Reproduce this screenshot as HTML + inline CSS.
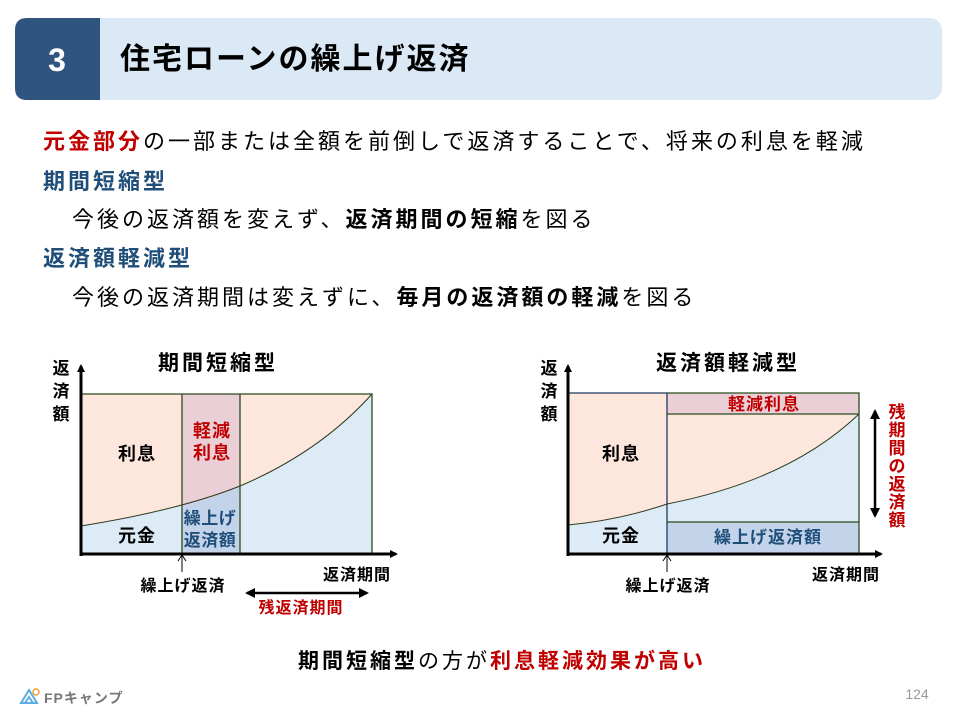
<!DOCTYPE html>
<html><head><meta charset="utf-8"><style>
body{margin:0;width:960px;height:720px;background:#fff;overflow:hidden;font-family:"Liberation Sans","Noto Sans CJK JP",sans-serif;}
svg{letter-spacing:3px;}
svg text{font-family:"Liberation Sans","Noto Sans CJK JP",sans-serif;}
</style></head><body>
<svg width="960" height="720" viewBox="0 0 960 720" xmlns="http://www.w3.org/2000/svg">
<defs>
<marker id="ah" markerWidth="8" markerHeight="8" refX="6" refY="4" orient="auto" markerUnits="userSpaceOnUse"><path d="M0,0 L8,4 L0,8 Z" fill="#000"/></marker>
<marker id="ah2" markerWidth="10" markerHeight="10" refX="8" refY="5" orient="auto-start-reverse" markerUnits="userSpaceOnUse"><path d="M0,0 L10,5 L0,10 Z" fill="#000"/></marker>
</defs>
<!-- header -->
<rect x="15" y="18" width="927" height="82" rx="12" fill="#dbe9f7"/>
<path d="M27,18 H100 V100 H27 Q15,100 15,88 V30 Q15,18 27,18 Z" fill="#2f5480"/>
<text x="57" y="71" font-size="32" font-weight="bold" fill="#fff" text-anchor="middle" style="letter-spacing:0">3</text>
<text x="120" y="69" font-size="30" font-weight="bold" fill="#000" style="letter-spacing:2px">住宅ローンの繰上げ返済</text>
<!-- body text -->
<g style="letter-spacing:3px">
<text x="43" y="149" font-size="22" fill="#000"><tspan fill="#c00000" font-weight="bold">元金部分</tspan>の一部または全額を前倒しで返済することで、将来の利息を軽減</text>
<text x="43" y="189" font-size="22" font-weight="bold" fill="#1f4e79">期間短縮型</text>
<text x="72" y="227" font-size="22" fill="#000">今後の返済額を変えず、<tspan font-weight="bold">返済期間の短縮</tspan>を図る</text>
<text x="43" y="266" font-size="22" font-weight="bold" fill="#1f4e79">返済額軽減型</text>
<text x="72" y="305" font-size="22" fill="#000">今後の返済期間は変えずに、<tspan font-weight="bold">毎月の返済額の軽減</tspan>を図る</text>
</g>

<!-- Left chart -->
<text x="218" y="370" font-size="21" font-weight="bold" text-anchor="middle" style="letter-spacing:3px">期間短縮型</text>
<g font-size="17" font-weight="bold" text-anchor="middle" style="letter-spacing:0"><text x="61" y="374">返</text><text x="61" y="397">済</text><text x="61" y="420">額</text></g>
<rect x="81" y="394" width="291" height="160" fill="#fde6dc"/>
<path d="M81,526 Q180,510 240,486 Q320,452 372,394 L372,554 L81,554 Z" fill="#ddebf7"/>
<rect x="182" y="394" width="58" height="112" fill="#ebcfd6"/>
<path d="M182,506 Q215,498 240,486 L240,554 L182,554 Z" fill="#c3d3ea"/>
<path d="M81,526 Q180,510 240,486 Q320,452 372,394" fill="none" stroke="#2b3a1e" stroke-width="1"/>
<path d="M81,394 H372 V554 M182,394 V554 M240,394 V554" fill="none" stroke="#2b4a1e" stroke-width="1.3"/>
<line x1="81" y1="556" x2="81" y2="366" stroke="#000" stroke-width="3" marker-end="url(#ah)"/>
<line x1="80" y1="554" x2="396" y2="554" stroke="#000" stroke-width="3" marker-end="url(#ah)"/>
<g font-size="18" font-weight="bold" text-anchor="middle" style="letter-spacing:1px">
<text x="137" y="460">利息</text><text x="137" y="542">元金</text>
<text x="212" y="437" fill="#c00000">軽減</text><text x="212" y="459" fill="#c00000">利息</text>
<text x="210" y="524" fill="#1f4e79" font-size="17" style="letter-spacing:0.5px">繰上げ</text><text x="210" y="546" fill="#1f4e79" font-size="17" style="letter-spacing:0.5px">返済額</text>
<text x="183" y="591" font-size="16">繰上げ返済</text>
<text x="357" y="580" font-size="16">返済期間</text>
<text x="301" y="613" font-size="16" fill="#c00000">残返済期間</text>
</g>
<line x1="182" y1="572" x2="182" y2="556" stroke="#000" stroke-width="1"/>
<path d="M178,561 L182,555 L186,561" fill="none" stroke="#000"/>
<line x1="247" y1="593" x2="367" y2="593" stroke="#000" stroke-width="2.5" marker-start="url(#ah2)" marker-end="url(#ah2)"/>

<!-- Right chart -->
<text x="728" y="370" font-size="21" font-weight="bold" text-anchor="middle" style="letter-spacing:3px">返済額軽減型</text>
<g font-size="17" font-weight="bold" text-anchor="middle" style="letter-spacing:0"><text x="549" y="374">返</text><text x="549" y="397">済</text><text x="549" y="420">額</text></g>
<rect x="568" y="393" width="99" height="161" fill="#fde6dc"/>
<rect x="667" y="414" width="192" height="108" fill="#fde6dc"/>
<path d="M568,525 Q620,520 667,504 L667,554 L568,554 Z" fill="#ddebf7"/>
<path d="M667,504 Q790,480 859,414 L859,522 L667,522 Z" fill="#ddebf7"/>
<rect x="667" y="393" width="192" height="21" fill="#ebcfd6"/>
<rect x="667" y="522" width="192" height="32" fill="#c3d3ea"/>
<path d="M568,525 Q620,520 667,504 Q790,480 859,414" fill="none" stroke="#2b3a1e" stroke-width="1"/>
<path d="M568,393 H667 V554" fill="none" stroke="#1f3a60" stroke-width="1.3"/>
<path d="M667,393 H859 V554 M667,414 H859 M667,522 H859" fill="none" stroke="#2b4a1e" stroke-width="1.3"/>
<line x1="568" y1="556" x2="568" y2="366" stroke="#000" stroke-width="3" marker-end="url(#ah)"/>
<line x1="567" y1="554" x2="881" y2="554" stroke="#000" stroke-width="3" marker-end="url(#ah)"/>
<line x1="875" y1="411" x2="875" y2="516" stroke="#000" stroke-width="2.5" marker-start="url(#ah2)" marker-end="url(#ah2)"/>
<g font-size="18" font-weight="bold" text-anchor="middle" style="letter-spacing:1px">
<text x="621" y="460">利息</text><text x="621" y="542">元金</text>
<text x="764" y="410" fill="#c00000" font-size="17">軽減利息</text>
<text x="768" y="543" fill="#1f4e79" font-size="17">繰上げ返済額</text>
<text x="668" y="591" font-size="16">繰上げ返済</text>
<text x="846" y="580" font-size="16">返済期間</text>
</g>
<g font-size="17" font-weight="bold" fill="#c00000" text-anchor="middle" style="letter-spacing:0">
<text x="897" y="418">残</text><text x="897" y="436">期</text><text x="897" y="454">間</text><text x="897" y="472">の</text><text x="897" y="490">返</text><text x="897" y="508">済</text><text x="897" y="526">額</text>
</g>
<line x1="667" y1="572" x2="667" y2="556" stroke="#000" stroke-width="1"/>
<path d="M663,561 L667,555 L671,561" fill="none" stroke="#000"/>

<!-- bottom -->
<text x="502" y="668" font-size="21" text-anchor="middle" style="letter-spacing:3px"><tspan font-weight="bold">期間短縮型</tspan>の方が<tspan font-weight="bold" fill="#c00000">利息軽減効果が高い</tspan></text>
<path d="M21,703 L29,690 L37,703 Z M25,703 L29,697 L33,703" fill="none" stroke="#5aaee0" stroke-width="2"/>
<circle cx="36" cy="692" r="3" fill="none" stroke="#f0a030" stroke-width="1.5"/>
<text x="44" y="703" font-size="14" font-weight="bold" fill="#777" style="letter-spacing:1px">FPキャンプ</text>
<text x="917" y="699" font-size="14" fill="#999" text-anchor="middle" style="letter-spacing:0">124</text>
</svg>
</body></html>
